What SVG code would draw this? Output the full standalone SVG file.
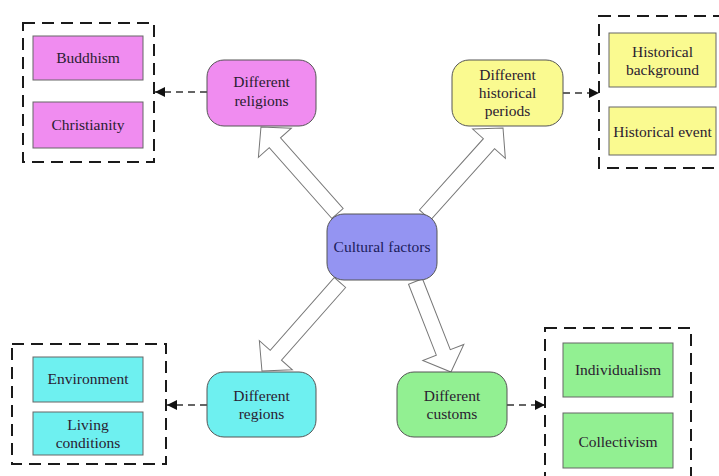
<svg xmlns="http://www.w3.org/2000/svg" width="719" height="476" viewBox="0 0 719 476">
<style>
text{font-family:"Liberation Serif","Times New Roman",serif;font-size:15.5px;text-anchor:middle;fill:#2a2030}
.node{stroke:#555;stroke-width:1}
.box{stroke:#666;stroke-width:1}
.grp{fill:none;stroke:#1a1a1a;stroke-width:2;stroke-dasharray:12,7}
.blk{fill:#fff;stroke:#777;stroke-width:1}
.dash{fill:none;stroke:#333;stroke-width:1.6;stroke-dasharray:7,5}
.pink{fill:#f08cf0}.yel{fill:#fafa90}.cyan{fill:#6ef0f0}.grn{fill:#92f092}.blue{fill:#9494f2}
</style>
<defs>
<marker id="ah" viewBox="0 0 10 10" refX="10" refY="5" markerWidth="10" markerHeight="10" markerUnits="userSpaceOnUse" orient="auto">
<path d="M0,0 L10,5 L0,10 z" fill="#111"/>
</marker>
</defs>
<g id="connectors">
<polygon class="blk" transform="translate(337.5,213.5) rotate(-131.5)" points="0,-7.5 94.5,-7.5 94.5,-22 115.5,0 94.5,22 94.5,7.5 0,7.5"/>
<polygon class="blk" transform="translate(425,215) rotate(-48.1)" points="0,-7.5 95.8,-7.5 95.8,-22 116.8,0 95.8,22 95.8,7.5 0,7.5"/>
<polygon class="blk" transform="translate(340,282.5) rotate(131.4)" points="0,-7.5 97,-7.5 97,-22 118,0 97,22 97,7.5 0,7.5"/>
<polygon class="blk" transform="translate(415.5,281.5) rotate(68.6)" points="0,-7.5 76.2,-7.5 76.2,-22 97.2,0 76.2,22 76.2,7.5 0,7.5"/>
<line class="dash" x1="207" y1="92" x2="155" y2="92" marker-end="url(#ah)"/>
<line class="dash" x1="563" y1="93" x2="599" y2="93" marker-end="url(#ah)"/>
<line class="dash" x1="207" y1="405" x2="167" y2="405" marker-end="url(#ah)"/>
<line class="dash" x1="507" y1="405" x2="545" y2="405" marker-end="url(#ah)"/>
</g>
<g id="center">
<rect class="node blue" x="327" y="214" width="110" height="66" rx="17"/>
<text x="382" y="252" style="fill:#1c1c5c">Cultural factors</text>
</g>
<g id="religions">
<rect class="node pink" x="207" y="60" width="109" height="66" rx="17"/>
<text x="261.5" y="87">Different</text>
<text x="261.5" y="106">religions</text>
</g>
<g id="periods">
<rect class="node yel" x="452" y="60" width="111" height="66" rx="17"/>
<text x="507.5" y="80">Different</text>
<text x="507.5" y="98">historical</text>
<text x="507.5" y="116">periods</text>
</g>
<g id="regions">
<rect class="node cyan" x="207" y="372" width="109" height="65" rx="17"/>
<text x="261.5" y="401">Different</text>
<text x="261.5" y="419">regions</text>
</g>
<g id="customs">
<rect class="node grn" x="397" y="372" width="110" height="65" rx="17"/>
<text x="452" y="401">Different</text>
<text x="452" y="419">customs</text>
</g>
<g id="religion-group">
<rect class="grp" x="23" y="23" width="131" height="139"/>
<g id="buddhism"><rect class="box pink" x="33" y="36" width="110" height="44"/><text x="88" y="63">Buddhism</text></g>
<g id="christianity"><rect class="box pink" x="33" y="102" width="110" height="46"/><text x="88" y="130">Christianity</text></g>
</g>
<g id="history-group">
<rect class="grp" x="599" y="16" width="124" height="152"/>
<g id="background"><rect class="box yel" x="609" y="33" width="107" height="54"/><text x="662.5" y="57">Historical</text><text x="662.5" y="75">background</text></g>
<g id="event"><rect class="box yel" x="609" y="107" width="107" height="48"/><text x="662.5" y="137">Historical event</text></g>
</g>
<g id="region-group">
<rect class="grp" x="12" y="344" width="154" height="120"/>
<g id="environment"><rect class="box cyan" x="33" y="357" width="110" height="45"/><text x="88" y="384">Environment</text></g>
<g id="living"><rect class="box cyan" x="33" y="412" width="110" height="43"/><text x="88" y="430">Living</text><text x="88" y="448">conditions</text></g>
</g>
<g id="custom-group">
<rect class="grp" x="545" y="328" width="146" height="160"/>
<g id="individualism"><rect class="box grn" x="563" y="343" width="110" height="54"/><text x="618" y="375">Individualism</text></g>
<g id="collectivism"><rect class="box grn" x="563" y="413" width="110" height="55"/><text x="618" y="447">Collectivism</text></g>
</g>
</svg>
